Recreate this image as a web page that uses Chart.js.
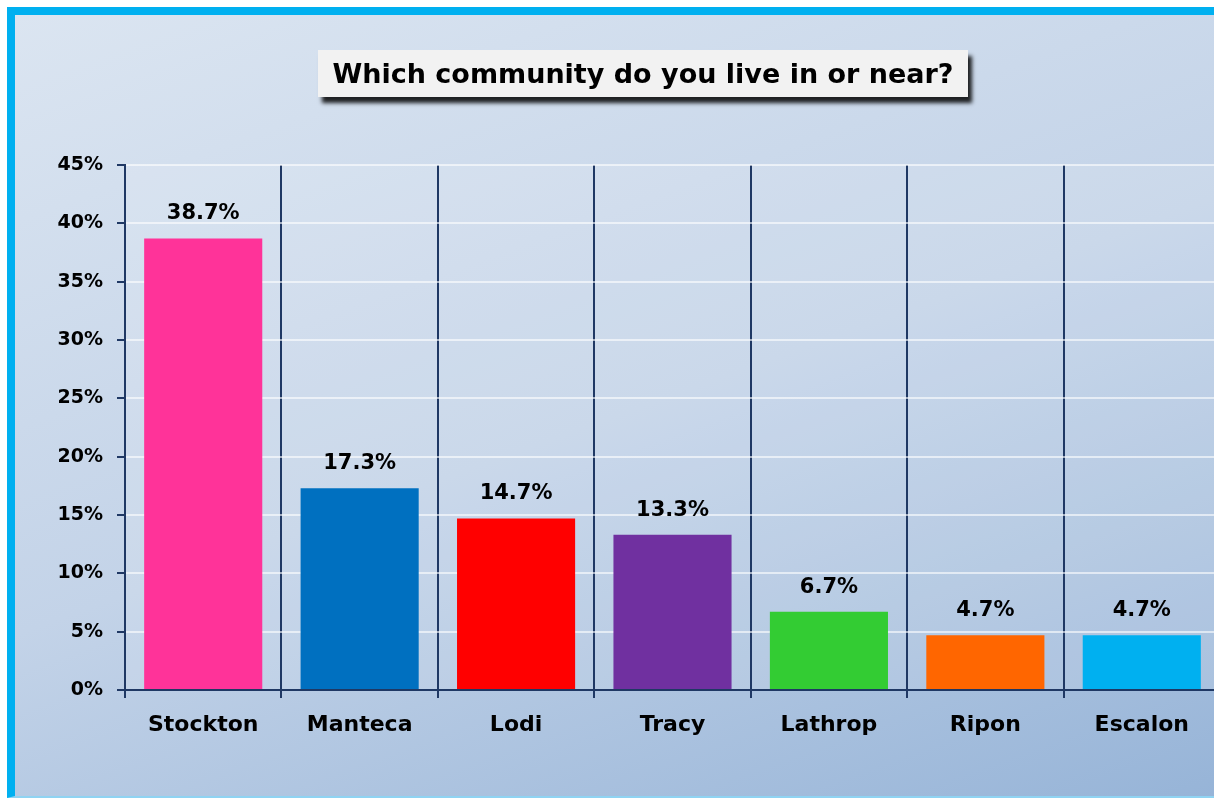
<!DOCTYPE html>
<html>
<head>
<meta charset="utf-8">
<script src="https://cdn.jsdelivr.net/npm/chart.js@4.4.1/dist/chart.umd.min.js"></script>
<style>
  html, body { margin: 0; padding: 0; background: #fff; }
  #page { position: relative; width: 1214px; height: 799px; overflow: hidden; background: #fff; }
  #frame {
    position: absolute; left: 7px; top: 7px; width: 1260px; height: 781px;
    border-left: 8px solid #00b0f0; border-top: 8px solid #00b0f0; border-bottom: 2px solid #8fd3f2;
    background: linear-gradient(160deg, #dbe5f1 0%, #c3d3e8 50%, #95b3d7 100%);
  }
  #title {
    position: absolute; left: 318px; top: 50px; width: 650px; height: 47px;
    background: #f2f2f2; box-shadow: 4px 6px 4px rgba(0,0,0,0.85);
    font: bold 27px "DejaVu Sans", sans-serif; color: #000;
    display: flex; align-items: center; justify-content: center;
  }
  #chart { position: absolute; left: 0; top: 0; }
</style>
</head>
<body>
<div id="page">
  <div id="frame"></div>
  <canvas id="chart" width="1220" height="799"></canvas>
  <div id="title">Which community do you live in or near?</div>
</div>
<script>
var communities = ['Stockton', 'Manteca', 'Lodi', 'Tracy', 'Lathrop', 'Ripon', 'Escalon'];
var shares = [38.7, 17.3, 14.7, 13.3, 6.7, 4.7, 4.7];
var barColors = ['#ff3399', '#0070c0', '#ff0000', '#7030a0', '#33cc33', '#ff6600', '#00b0f0'];

var labelFont = 'bold 21px "DejaVu Sans", sans-serif';

// faint lighter fill behind the plot
var plotFill = {
    id: 'plotFill',
    beforeDraw: function (chart) {
        var a = chart.chartArea;
        var ctx = chart.ctx;
        ctx.save();
        ctx.fillStyle = 'rgba(255,255,255,0.12)';
        ctx.fillRect(a.left, a.top, a.right - a.left, a.bottom - a.top);
        ctx.restore();
    }
};

// value labels above each bar
var valueLabels = {
    id: 'valueLabels',
    afterDatasetsDraw: function (chart) {
        var ctx = chart.ctx;
        var meta = chart.getDatasetMeta(0);
        ctx.save();
        ctx.font = labelFont;
        ctx.fillStyle = '#000';
        ctx.textAlign = 'center';
        ctx.textBaseline = 'bottom';
        meta.data.forEach(function (bar, i) {
            ctx.fillText(shares[i].toFixed(1) + '%', bar.x, bar.y - 14);
        });
        ctx.restore();
    }
};

var ctx = document.getElementById('chart').getContext('2d');
var myChart = new Chart(ctx, {
    type: 'bar',
    data: {
        labels: communities,
        datasets: [{
            data: shares,
            backgroundColor: barColors,
            borderWidth: 0,
            barPercentage: 0.755,
            categoryPercentage: 1
        }]
    },
    options: {
        responsive: false,
        animation: false,
        layout: { padding: { top: 165, left: 0, right: 0, bottom: 0 } },
        plugins: {
            legend: { display: false },
            title: { display: false },
            tooltip: { enabled: false }
        },
        scales: {
            x: {
                z: 1,
                afterFit: function (scale) { scale.height = 109; },
                grid: {
                    offset: true,
                    color: '#1f3864',
                    lineWidth: 2,
                    tickLength: 8
                },
                border: { color: '#1f3864', width: 2 },
                ticks: {
                    color: '#000',
                    font: { family: '"DejaVu Sans", sans-serif', size: 22, weight: 'bold' },
                    padding: 14
                }
            },
            y: {
                min: 0,
                max: 45,
                afterFit: function (scale) { scale.width = 125; },
                grid: {
                    color: 'rgba(255,255,255,0.6)',
                    lineWidth: 2,
                    tickColor: '#1f3864',
                    tickLength: 8
                },
                border: { color: '#1f3864', width: 2 },
                ticks: {
                    stepSize: 5,
                    color: '#000',
                    font: { family: '"DejaVu Sans", sans-serif', size: 19, weight: 'bold' },
                    padding: 14,
                    callback: function (v) { return v + '%'; }
                }
            }
        }
    },
    plugins: [plotFill, valueLabels]
});
</script>
</body>
</html>
